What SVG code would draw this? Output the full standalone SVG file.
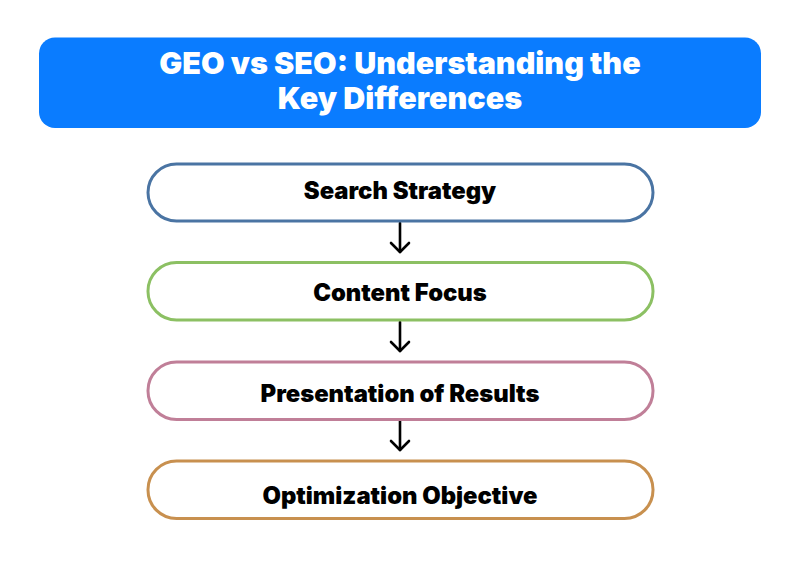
<svg xmlns="http://www.w3.org/2000/svg" width="800" height="588" viewBox="0 0 800 588">
<style>
.title{font-family:Inter,"Noto Sans",sans-serif;font-weight:900;font-size:30.5px;fill:#ffffff;text-anchor:middle}
.node rect{fill:#ffffff;stroke-width:3}
.label{font-family:Inter,"Noto Sans",sans-serif;font-weight:900;font-size:23.8px;fill:#000000;text-anchor:middle}
.conn line,.conn path{stroke:#000000;stroke-width:2.6;fill:none;stroke-linecap:round;stroke-linejoin:round}
</style>
<rect width="800" height="588" fill="#ffffff"/>
<g id="title">
<rect x="39" y="37.5" width="722" height="90.5" rx="16" fill="#0a7cff"/>
<text class="title" x="400" y="73.5">GEO vs SEO: Understanding the</text>
<text class="title" x="400" y="108.5">Key Differences</text>
</g>
<g class="conn" id="connectors">
<line x1="400" y1="223" x2="400" y2="252"/><path d="M391 243 L400 252 L409 243"/>
<line x1="400" y1="322" x2="400" y2="351"/><path d="M391 342 L400 351 L409 342"/>
<line x1="400" y1="421" x2="400" y2="450"/><path d="M391 441 L400 450 L409 441"/>
</g>
<g class="node" id="search-strategy">
<rect x="148" y="164" width="505" height="57" rx="28.5" stroke="#4a74a3"/>
<text class="label" x="400" y="199">Search Strategy</text>
</g>
<g class="node" id="content-focus">
<rect x="148" y="262.5" width="505" height="57.5" rx="28.5" stroke="#8cc063"/>
<text class="label" x="400" y="301">Content Focus</text>
</g>
<g class="node" id="presentation-of-results">
<rect x="148" y="362" width="505" height="57.5" rx="28.5" stroke="#c07f98"/>
<text class="label" x="400" y="402">Presentation of Results</text>
</g>
<g class="node" id="optimization-objective">
<rect x="148" y="461" width="505" height="57.5" rx="28.5" stroke="#c8904f"/>
<text class="label" x="400" y="504">Optimization Objective</text>
</g>
</svg>
